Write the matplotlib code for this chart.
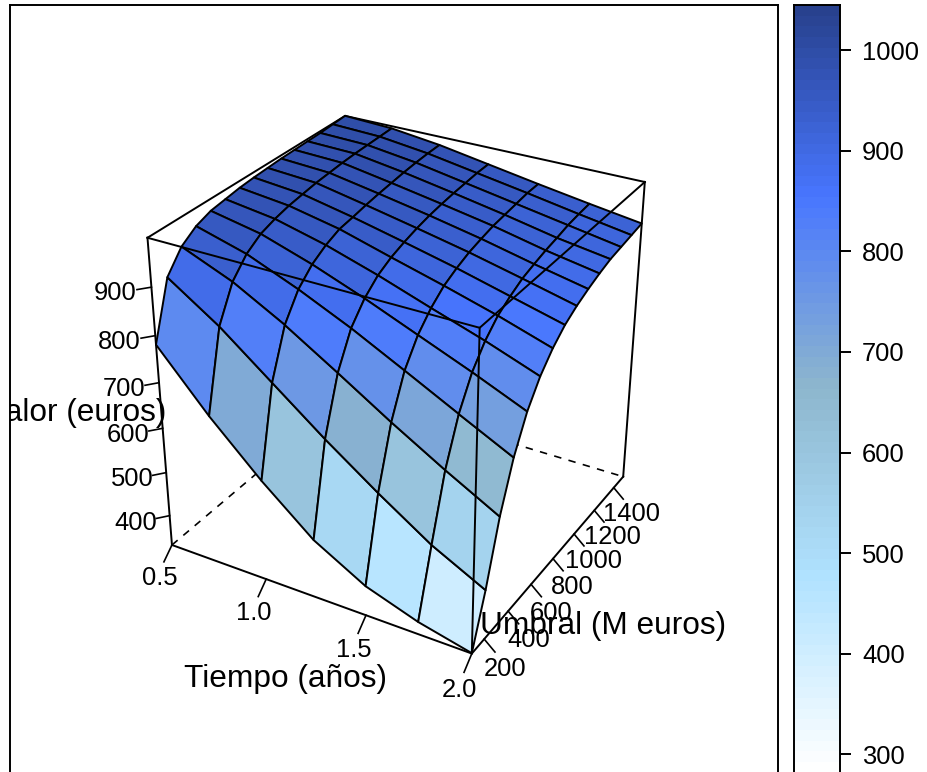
import numpy as np
import matplotlib
matplotlib.use('Agg')
import matplotlib.pyplot as plt
from matplotlib.colors import LinearSegmentedColormap, ListedColormap, BoundaryNorm

plt.rcParams['font.family'] = ['Liberation Sans', 'DejaVu Sans']

tiempo = [0.5, 0.75, 1.0, 1.25, 1.5, 1.75, 2.0]
umbral = [100, 200, 300, 400, 500, 600, 700, 800, 900, 1000, 1100, 1200, 1300, 1400, 1500]
# one row per umbral, one column per tiempo
valor = np.array([
    [781, 661, 555, 461, 397, 358, 331],
    [899, 827, 741, 655, 575, 500, 441],
    [941, 897, 838, 770, 700, 634, 572],
    [963, 933, 889, 839, 783, 726, 670],
    [975, 954, 919, 878, 833, 788, 740],
    [980, 965, 938, 904, 866, 829, 788],
    [985, 973, 951, 920, 890, 858, 822],
    [988, 978, 956, 931, 905, 876, 847],
    [990, 983, 962, 940, 917, 891, 864],
    [992, 986, 967, 947, 925, 900, 877],
    [993, 989, 971, 952, 932, 908, 888],
    [994, 991, 975, 956, 936, 914, 897],
    [995, 992, 978, 959, 940, 921, 902],
    [997, 993, 980, 962, 944, 925, 907],
    [999, 994, 981, 963, 945, 928, 912],
], dtype=float)

tiempo_ticks = [0.5, 1.0, 1.5, 2.0]
umbral_ticks = [200, 400, 600, 800, 1000, 1200, 1400]
valor_ticks = [400, 500, 600, 700, 800, 900]
colorbar_ticks = [300, 400, 500, 600, 700, 800, 900, 1000]
ramp_colors = ['#FFFFFF', '#B0E2FF', '#8DB6CD', '#4876FF', '#27408B']

W, H = 927, 772
TICK_SIZE = 18.4
LABEL_SIZE = 22.8
LW = 1.4


def px_axes(x0, y0, x1, y1, **kw):
    return fig.add_axes([x0 / W, 1 - y1 / H, (x1 - x0) / W, (y1 - y0) / H], **kw)


fig = plt.figure(figsize=(W / 100, H / 100), dpi=100)

# outer panel, runs off the bottom of the picture like the original
panel = px_axes(10, 5, 778, 810)
panel.set_xticks([])
panel.set_yticks([])
for sp in panel.spines.values():
    sp.set_linewidth(LW)

# colour scale
levels = np.arange(1045, 255, -10.6)[::-1]
centers = (levels[:-1] + levels[1:]) / 2
ramp = LinearSegmentedColormap.from_list('ramp', ramp_colors, N=512)
bands = ramp(np.clip((centers - 285) / 760, 0, 1))
cmap = ListedColormap(bands)
norm = BoundaryNorm(levels, len(bands))

cb = px_axes(794, 5, 840, 810)
cb.pcolormesh([0, 1], levels, centers[:, None], cmap=cmap, norm=norm)
cb.set_ylim(1045 - 805 / 1.0057, 1045)
cb.set_xticks([])
cb.yaxis.tick_right()
cb.set_yticks(colorbar_ticks)
cb.tick_params(axis='y', length=8, width=LW, labelsize=TICK_SIZE, pad=8)
for sp in cb.spines.values():
    sp.set_linewidth(LW)

# 3d surface
ax = fig.add_axes([105.5 / W, 106.6 / H, 581.7 / W, 581.7 / H],
                  projection='3d', computed_zorder=False)
ax.set_axis_off()
ax.view_init(elev=29.825, azim=-59.942)
ax.set_proj_type('persp', focal_length=0.564)
ax.set_box_aspect((1, 1, 1))

x0, x1 = tiempo[0], tiempo[-1]
y0, y1 = umbral[0], umbral[-1]
z0, z1 = 330.1, 998.8
dx, dy, dz = x1 - x0, y1 - y0, z1 - z0

# back of the box, hidden by the surface
ax.plot([x0, x0], [y1, y1], [z0, z1], 'k-', lw=LW, zorder=1)
ax.plot([x0, x0, x1], [y0, y1, y1], [z0, z0, z0], color='k', ls=(0, (4.5, 4.5)), lw=LW * 0.85, zorder=1)
ax.plot([x0, x0, x1], [y0, y1, y1], [z1, z1, z1], 'k-', lw=LW, zorder=1)

X, Y = np.meshgrid(tiempo, umbral)
cell = (valor[:-1, :-1] + valor[1:, :-1] + valor[:-1, 1:] + valor[1:, 1:]) / 4
ax.plot_surface(X, Y, valor, rstride=1, cstride=1, facecolors=cmap(norm(cell)),
                shade=False, edgecolor='k', linewidth=LW, zorder=2)

# front of the box, on top of the surface
ax.plot([x0, x1, x1], [y0, y0, y1], [z1, z1, z1], 'k-', lw=LW, zorder=3)
ax.plot([x0, x1, x1], [y0, y0, y1], [z0, z0, z0], 'k-', lw=LW, zorder=3, clip_on=False)
for xc, yc in [(x0, y0), (x1, y0), (x1, y1)]:
    ax.plot([xc, xc], [yc, yc], [z0, z1], 'k-', lw=LW, zorder=3, clip_on=False)

# ticks and tick labels
for t in tiempo_ticks:
    ax.plot([t, t], [y0, y0 - 0.043 * dy], [z0, z0 - 0.034 * dz], 'k-', lw=LW * 0.85, zorder=3, clip_on=False)
    ax.text(t, y0 - 0.043 * 1.55 * dy, z0 - 0.034 * 2.25 * dz, f'{t:.1f}', fontsize=TICK_SIZE,
            ha='center', va='center', zorder=4)
for u in umbral_ticks:
    ax.plot([x1, x1 + 0.034 * dx], [u, u], [z0, z0 - 0.031 * dz], 'k-', lw=LW * 0.85, zorder=3, clip_on=False)
    ax.text(x1 + 0.034 * 1.95 * dx, u, z0 - 0.031 * 2.45 * dz, str(u), fontsize=TICK_SIZE,
            ha='center', va='center', zorder=4)
for v in valor_ticks:
    ax.plot([x0, x0 - 0.025 * dx], [y0, y0 - 0.031 * dy], [v, v], 'k-', lw=LW * 0.85, zorder=3, clip_on=False)
    ax.text(x0 - 0.025 * 2.5 * dx, y0 - 0.031 * 2.5 * dy, v, str(v), fontsize=TICK_SIZE,
            ha='center', va='center', zorder=4)

# axis titles
ax.text((x0 + x1) / 2, y0 - 0.166 * dy, z0 - 0.178 * dz, 'Tiempo (años)', fontsize=LABEL_SIZE,
        ha='center', va='center', zorder=5)
ax.text(x1 + 0.170 * dx, (y0 + y1) / 2, z0 - 0.1805 * dz, 'Umbral (M euros)', fontsize=LABEL_SIZE,
        ha='center', va='center', zorder=5)
ylab = ax.text(x0 - 0.155 * dx, y0 - 0.178 * dy, (z0 + z1) / 2, 'Valor (euros)', fontsize=LABEL_SIZE,
               ha='center', va='center', zorder=5)
ylab.set_clip_path(None)
ylab.set_clip_box(panel.bbox)
ylab.set_clip_on(True)

ax.set_xlim(x0, x1, view_margin=0)
ax.set_ylim(y0, y1, view_margin=0)
ax.set_zlim(z0, z1, view_margin=0)

fig.savefig('out.png', dpi=100)
